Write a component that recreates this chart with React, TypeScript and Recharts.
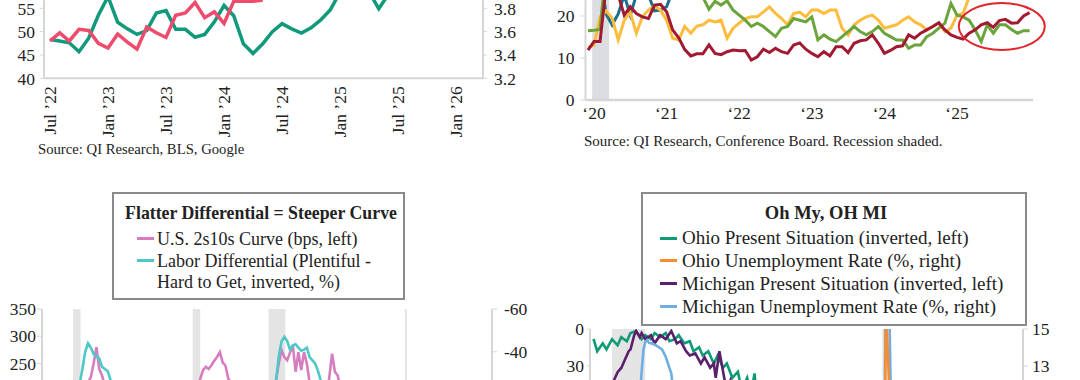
import React from "react";
import { LineChart, Line, XAxis, YAxis, ReferenceArea, ReferenceDot } from "recharts";

const FONT = '"Liberation Serif", "Times New Roman", serif';
const INK = "#222";
const AXIS = "#d6d6d6";
const SHADE = "#e4e4e4";

// ---------- top left: Google searches vs BLS unemployment (monthly from Jul '22)
const p1TickLabels = ["Jul ’22", "Jan ’23", "Jul ’23", "Jan ’24", "Jul ’24", "Jan ’25", "Jul ’25", "Jan ’26"];
const p1Google = [
  48.3, 48.0, 47.6, 45.7, 48.6, 53.5, 57.5, 52.0, 50.6, 49.4, 50.2, 54.0, 54.5, 50.5, 50.5, 48.8, 49.4, 52.1,
  55.6, 53.4, 47.4, 45.3, 47.4, 50.0, 51.7, 50.6, 49.7, 50.8, 52.5, 54.7, 58.5, 61.0, 59.8, 58.5, 54.9, 58.0, 61.0,
];
const p1Unemp = [
  3.52, 3.59, 3.52, 3.62, 3.61, 3.5, 3.46, 3.58, 3.51, 3.45, 3.64, 3.59, 3.55, 3.74, 3.76, 3.85, 3.72, 3.77,
  3.67, 3.86, 3.86, 3.86, 3.87,
];
const p1LeftTicks = [40, 45, 50, 55];
const p1RightTicks = [3.2, 3.4, 3.6, 3.8];
const p1Data = p1Google.map((g, i) => ({ m: i, google: g, unemp: p1Unemp[i] ?? null }));

// ---------- top right: Conference Board series (monthly, first point Dec '19)
const p2TickLabels = ["‘20", "‘21", "‘22", "‘23", "‘24", "‘25"];
const p2Red = [
  11.9, 13.9, 13.9, 27, 28, 25, 20.2, 22.2, 20.6, 19.8, 19.4, 22.6, 22.8, 21, 16.7, 14.8, 12, 10.5, 11, 11,
  13.1, 11.1, 10.8, 11.5, 11.9, 11.7, 11.8, 9.5, 10.3, 12.1, 11.3, 12.3, 11.5, 11.1, 13.1, 13.6, 12.1, 11.1,
  10.3, 11.5, 10.5, 12.7, 12.7, 11.3, 13.5, 14.1, 14.3, 15.5, 13.5, 11.1, 11.8, 12.7, 12.9, 15.5, 14.7, 15.9,
  16.7, 17.5, 18.4, 16.7, 15.5, 14.9, 14.5, 15.9, 16.7, 17.9, 18.4, 17.3, 18.9, 19.2, 18.3, 18.4, 20, 20.8,
];
const p2Yellow = [
  12.6, 13, 19.8, 21.2, 19.5, 14.3, 19, 20.8, 15.9, 19.8, 21.4, 22.4, 21.4, 19, 14.7, 14.3, 17.5, 15.9, 17.6,
  17.9, 19, 18.6, 19, 14.7, 17.1, 18.3, 19.4, 19.8, 19.8, 21, 22.2, 20.6, 19.4, 17.9, 20.6, 20.9, 19.8, 21.4,
  21.4, 20.6, 21.4, 21.4, 17.1, 15.5, 17.9, 19, 19.8, 20.2, 19, 17.1, 17.5, 17.9, 19, 19.8, 18.6, 17.9, 16.7,
  17.5, 18.3, 16.3, 17.1, 20.2, 20.6, 24.5, 27, 28, 29, 28, 29, 30, 29, 30, 31, 31,
];
const p2Green = [
  16.5, 16.6, 16.8, 32, 34, 35, 36, 36, 35, 34, 33, 32, 31, 30, 29, 28, 27, 26, 25, 24.5, 21.6, 23.5, 22.6,
  23.6, 21.4, 20.2, 19, 17.5, 18.3, 17.5, 16.3, 15.1, 17.1, 17.5, 19.4, 19, 18.6, 19.8, 14.3, 15.5, 14.5, 13.9,
  15.1, 16.3, 17.5, 16.3, 15.5, 16.3, 17.5, 15.9, 15.1, 14.3, 14.3, 12.3, 13.1, 13.1, 15.1, 15.9, 17.1, 18.3,
  23, 20.2, 19.8, 19, 16.7, 13.9, 17.9, 15.9, 17.9, 17.9, 16.8, 15.9, 16.5, 16.5,
];
const p2Teal = [30, 32, 30, 20.5, 17.9, 20.5, 25, 20.2, 25, 28, 25, 21.2, 21.4, 22.2, 26, 28, 30];
const p2LeftTicks = [0, 10, 20];
const p2Recession = [-0.3, 2.5];
const p2Circle = { t: 67.4, v: 17.5 };
const p2Data = p2Red.map((r, i) => ({
  t: i - 1,
  red: r,
  yellow: p2Yellow[i],
  green: p2Green[i],
  teal: p2Teal[i] ?? null,
}));

// ---------- bottom left: 2s10s curve vs labor differential (quarterly from 1988 Q1)
const p3Curve = [
  90, 80, 60, 40, 10, -10, 0, 10, 30, 60, 90, 120, 130, 160, 190, 215,
  225, 250, 280, 240, 228, 210, 200, 190, 150, 110, 80, 50, 30, 30, 40, 40,
  50, 60, 50, 40, 40, 30, 30, 20, 10, 10, 20, 30, 30, 20, 10, 0,
  -30, -30, -10, 10, 60, 130, 170, 222, 238, 244, 240, 247, 255, 262, 271, 252,
  246, 222, 215, 190, 100, 50, 20, 10, 0, -10, -10, -10, 0, 10, 40, 90,
  140, 180, 220, 250, 275, 262, 256, 270, 283, 235, 271, 238, 271, 250, 215, 200,
  190, 170, 150, 140, 170, 225, 268, 235, 228, 205, 190, 160, 150, 140, 140, 130,
  110, 100, 90, 120, 120, 100, 90, 70, 60, 40, 25, 20, 15, 5, 5, 20,
  20, 50, 55, 65, 125, 145, 115, 85, 60, 10, -30, -60, -80, -90, -60, -40,
  -35, -40, -10, 15, 35, 50, 55, 55,
];
const p3Labor = [
  5, 8, 10, 12, 12, 10, 5, -5, -10, -15, -20, -22, -25, -32, -40, -44,
  -42, -39, -38, -37, -33, -32, -31, -27, -22, -18, -12, -8, -5, -5, -3, -2,
  0, 2, 5, 8, 12, 15, 18, 20, 22, 24, 25, 26, 27, 28, 30, 30,
  32, 33, 32, 30, 25, 15, 5, -5, -10, -12, -14, -17, -18, -20, -21, -19,
  -16, -14, -12, -10, -7, -4, -2, 0, 3, 5, 7, 7, 7, 6, 4, 2,
  -5, -12, -26, -38, -45, -47, -45, -41, -43, -43.5, -42, -40.5, -41, -42, -37.5, -36,
  -34.5, -31, -26.5, -25, -23, -22, -20, -18, -15, -12, -8, -5, -3, 0, 3, 5,
  5, 6, 7, 9, 12, 14, 16, 18, 20, 22, 25, 28, 30, 32, 33, 32,
  35, -2, 0, 2, 10, 25, 40, 45, 47, 45, 40, 37, 35, 30, 25, 20,
  18, 15, 13, 10, 9, 8, 7, 6,
];
// months since Jan 1990
const p3Recessions = [[6, 14], [134, 142], [215, 233], [361, 363]];
const p3LeftTicks = [250, 300, 350];
const p3RightTicks = [-60, -40];
const p3Data = p3Curve.map((c, q) => ({ m: 3 * q - 23, curve: c, labor: p3Labor[q] }));

// ---------- bottom right: Ohio / Michigan (x = months since Jan 2000)
const p4OhioPresent = [
  [85, 8], [87, 18], [90, 11.6], [92, 16.5], [95, 8.2], [98, 13.2], [100, 6.6], [103, 9.9], [105, 3.3],
  [108, 1.6], [111, 8.2], [113, 5], [116, 8.2], [118, 3.3], [121, 6.6], [124, 3.3], [126, 9.9], [129, 8.2],
  [131, 5], [134, 11.6], [137, 9.9], [139, 18], [142, 14.8], [144, 21.5], [147, 18], [150, 28], [152, 21.5],
  [155, 31.4], [157, 28], [160, 39.6], [163, 34.6], [165, 49.5], [168, 39.6], [170, 52], [172, 36], [173, 55],
  [176, 58], [182, 65], [188, 72], [194, 80], [200, 90], [206, 95], [212, 105], [218, 115], [224, 125],
  [230, 135], [236, 140], [240, 138], [242, 80], [243, 62], [245, 70], [248, 78], [254, 95], [260, 110],
  [266, 130], [272, 140], [278, 135], [284, 125], [290, 120], [296, 115], [302, 110], [309, 100],
];
const p4OhioUnemp = [
  [84, 5.5], [90, 5.6], [96, 5.9], [102, 6.6], [108, 9.0], [114, 10.8], [118, 11.0], [124, 10.6], [132, 9.5],
  [144, 7.5], [156, 7.3], [168, 5.9], [180, 4.9], [192, 5.0], [204, 5.0], [216, 4.6], [228, 4.2], [240, 4.1],
  [242, 5.5], [243, 16.4], [244, 13.7], [245, 10.9], [246, 8.9], [248, 8.5], [252, 6.0], [258, 5.0],
  [264, 4.1], [270, 3.8], [276, 3.6], [282, 3.5], [288, 4.0], [294, 4.4], [300, 4.7], [306, 5.0], [309, 5.0],
];
const p4MichPresent = [
  [84, 55], [85, 46], [86, 60], [88, 68], [90, 74], [92, 66], [94, 55], [96, 41.6], [98, 35], [100, 31.6],
  [102, 24.8], [104, 18], [105, 16.5], [107, 5], [108, 1.6], [110, 6.6], [111, 3.3], [113, 8.2], [116, 5],
  [118, 11.6], [121, 5], [124, 8.2], [127, 1.6], [130, 11.6], [132, 9.9], [135, 18], [137, 21.5], [140, 19.8],
  [143, 28], [145, 23], [148, 31.4], [150, 28], [151, 39.6], [153, 18], [155, 34.6], [157, 51], [159, 41.6],
  [162, 54], [166, 65], [172, 80], [180, 100], [190, 120], [200, 135], [210, 150], [220, 160], [230, 165],
  [240, 160], [242, 70], [243, 55], [245, 75], [250, 95], [260, 125], [270, 150], [280, 140], [290, 130],
  [300, 125], [309, 115],
];
const p4MichUnemp = [
  [84, 7.0], [90, 7.2], [96, 7.6], [102, 8.5], [106, 9.8], [108, 10.9], [110, 11.4], [111, 12.7], [112, 13.9],
  [113, 14.3], [114, 14.4], [115, 14.25], [117, 14.2], [119, 14.1], [122, 13.9], [124, 13.5], [125, 13.2],
  [127, 12.6], [128, 11.75], [130, 11.2], [133, 10.8], [140, 10.0], [150, 9.0], [160, 8.5], [170, 7.5],
  [180, 6.0], [192, 5.0], [204, 4.5], [216, 4.2], [228, 4.1], [240, 3.9], [242, 4.3], [243, 22.7], [244, 21.2],
  [245, 14.9], [246, 9.0], [248, 8.0], [252, 6.5], [258, 5.5], [264, 4.5], [270, 4.3], [276, 3.9], [282, 3.9],
  [288, 4.2], [294, 4.5], [300, 4.8], [306, 5.3], [309, 5.2],
];
const p4Recessions = [[95, 113], [241, 243]];
const p4LeftTicks = [0, 30];
const p4RightTicks = [13, 15];
const pts = (pairs: number[][]) => pairs.map(([m, v]) => ({ m, v }));

const tickStyle = { fontSize: 17.5, fill: INK, fontFamily: FONT };

const RotatedTick = ({ x, y, payload }: any) => (
  <text
    x={x}
    y={y}
    dy="0.36em"
    textAnchor="end"
    transform={`rotate(-90 ${x} ${y})`}
    fontSize={17.5}
    fill={INK}
    fontFamily={FONT}
  >
    {p1TickLabels[Math.round(payload.value / 6)]}
  </text>
);

const Source = ({ left, top, size, children }: any) => (
  <div style={{ position: "absolute", left, top, fontSize: size, lineHeight: "17px", whiteSpace: "nowrap" }}>
    {children}
  </div>
);

const Swatch = ({ left, top, color }: any) => (
  <div style={{ position: "absolute", left, top: top - 1.75, width: 17, height: 3.5, background: color }} />
);

const Txt = ({ left, top, size, bold, center, children }: any) => (
  <div
    style={{
      position: "absolute",
      left,
      top: top - 11,
      height: 22,
      lineHeight: "22px",
      fontSize: size,
      fontWeight: bold ? 700 : 400,
      whiteSpace: "nowrap",
      transform: center ? "translateX(-50%)" : undefined,
    }}
  >
    {children}
  </div>
);

function TopLeft() {
  return (
    <>
      <div style={{ position: "absolute", left: 0, top: -70 }}>
        <LineChart width={560} height={230} data={p1Data} margin={{ top: 8.3, right: 0, bottom: 1.7, left: 0 }}>
          <XAxis
            dataKey="m"
            type="number"
            domain={[-0.62, 44.78]}
            ticks={p1TickLabels.map((_, i) => i * 6)}
            interval={0}
            tick={<RotatedTick />}
            tickLine={false}
            tickSize={0}
            tickMargin={8}
            height={80}
            axisLine={{ stroke: AXIS, strokeWidth: 2 }}
            allowDataOverflow
          />
          <YAxis
            yAxisId="l"
            domain={[40, 70]}
            ticks={p1LeftTicks}
            interval={0}
            width={44}
            tick={tickStyle}
            tickSize={4}
            tickMargin={5}
            tickLine={{ stroke: AXIS }}
            axisLine={{ stroke: AXIS, strokeWidth: 2 }}
            allowDataOverflow
          />
          <YAxis
            yAxisId="r"
            orientation="right"
            domain={[3.2, 4.4]}
            ticks={p1RightTicks}
            interval={0}
            tickFormatter={(v: number) => v.toFixed(1)}
            width={77}
            tick={tickStyle}
            tickSize={4}
            tickMargin={7}
            tickLine={{ stroke: AXIS }}
            axisLine={{ stroke: AXIS, strokeWidth: 2 }}
            allowDataOverflow
          />
          <Line yAxisId="l" dataKey="google" stroke="#10997a" strokeWidth={3.5} dot={false} isAnimationActive={false} />
          <Line yAxisId="r" dataKey="unemp" stroke="#ef4b6d" strokeWidth={3.5} dot={false} isAnimationActive={false} />
        </LineChart>
      </div>
      <Source left={38} top={141} size={14.7}>Source: QI Research, BLS, Google</Source>
    </>
  );
}

function TopRight() {
  return (
    <>
      <div style={{ position: "absolute", left: 540, top: -80 }}>
        <LineChart width={540} height={230} data={p2Data} margin={{ top: 12, right: 47, bottom: 10, left: 0 }}>
          <XAxis
            dataKey="t"
            type="number"
            domain={[-1.405, 72.56]}
            ticks={p2TickLabels.map((_, i) => i * 12)}
            interval={0}
            tickFormatter={(v: number) => p2TickLabels[Math.round(v / 12)]}
            tick={tickStyle}
            tickLine={false}
            tickSize={0}
            tickMargin={7}
            height={40}
            axisLine={{ stroke: AXIS, strokeWidth: 2.5 }}
            allowDataOverflow
          />
          <YAxis
            domain={[0, 40]}
            ticks={p2LeftTicks}
            interval={0}
            width={45.5}
            tick={tickStyle}
            tickSize={5}
            tickMargin={6}
            tickLine={{ stroke: AXIS }}
            axisLine={{ stroke: AXIS, strokeWidth: 2 }}
            allowDataOverflow
          />
          <ReferenceArea x1={p2Recession[0]} x2={p2Recession[1]} fill="#dcdde0" fillOpacity={1} stroke="none" />
          <Line dataKey="teal" stroke="#1d6f90" strokeWidth={3} dot={false} isAnimationActive={false} />
          <Line dataKey="yellow" stroke="#fdbc3c" strokeWidth={3} dot={false} isAnimationActive={false} />
          <Line dataKey="green" stroke="#6ca43c" strokeWidth={3} dot={false} isAnimationActive={false} />
          <Line dataKey="red" stroke="#a11a31" strokeWidth={3} dot={false} isAnimationActive={false} />
          <ReferenceDot
            x={p2Circle.t}
            y={p2Circle.v}
            shape={(p: any) => (
              <ellipse cx={p.cx} cy={p.cy} rx={43} ry={23.5} fill="none" stroke="#e2242b" strokeWidth={2} />
            )}
          />
        </LineChart>
      </div>
      <Source left={584} top={133} size={15}>Source: QI Research, Conference Board. Recession shaded.</Source>
    </>
  );
}

function BottomLeft() {
  return (
    <>
      <div style={{ position: "absolute", left: 0, top: 300 }}>
        <LineChart width={540} height={320} data={p3Data} margin={{ top: 9, right: 0, bottom: 11, left: 0 }}>
          <XAxis dataKey="m" type="number" domain={[-27.2, 454]} hide allowDataOverflow />
          <YAxis
            yAxisId="l"
            domain={[-200, 350]}
            ticks={p3LeftTicks}
            interval={0}
            width={42}
            tick={tickStyle}
            tickSize={5}
            tickMargin={1}
            tickLine={{ stroke: AXIS }}
            axisLine={{ stroke: AXIS, strokeWidth: 2 }}
            allowDataOverflow
          />
          <YAxis
            yAxisId="r"
            orientation="right"
            reversed
            domain={[-60, 80]}
            ticks={p3RightTicks}
            interval={0}
            width={48}
            tick={tickStyle}
            tickSize={5}
            tickMargin={7}
            tickLine={{ stroke: AXIS }}
            axisLine={{ stroke: AXIS, strokeWidth: 2 }}
            allowDataOverflow
          />
          {p3Recessions.map(([a, b]) => (
            <ReferenceArea key={a} yAxisId="l" x1={a} x2={b} fill={SHADE} fillOpacity={1} stroke="none" />
          ))}
          <Line yAxisId="l" dataKey="curve" stroke="#d67dc0" strokeWidth={2.6} dot={false} isAnimationActive={false} />
          <Line yAxisId="r" dataKey="labor" stroke="#4ec8c6" strokeWidth={2.6} dot={false} isAnimationActive={false} />
        </LineChart>
      </div>
      <div
        style={{
          position: "absolute",
          left: 112,
          top: 192,
          width: 293,
          height: 108,
          boxSizing: "border-box",
          border: "2px solid #8a8a8a",
          background: "#fff",
        }}
      />
      <Txt left={261} top={213} size={17.8} bold center>Flatter Differential = Steeper Curve</Txt>
      <Swatch left={137} top={238.5} color="#d67dc0" />
      <Txt left={157} top={238.5} size={18}>U.S. 2s10s Curve (bps, left)</Txt>
      <Swatch left={137} top={260.5} color="#4ec8c6" />
      <Txt left={157} top={260.5} size={18}>Labor Differential (Plentiful -</Txt>
      <Txt left={157} top={281.5} size={18}>Hard to Get, inverted, %)</Txt>
    </>
  );
}

function BottomRight() {
  return (
    <>
      <div style={{ position: "absolute", left: 540, top: 320 }}>
        <LineChart width={540} height={260} margin={{ top: 9, right: 0, bottom: 29, left: 0 }}>
          <XAxis dataKey="m" type="number" domain={[83.1, 317]} hide allowDataOverflow />
          <YAxis
            yAxisId="l"
            reversed
            domain={[0, 180]}
            ticks={p4LeftTicks}
            interval={0}
            width={50}
            tick={tickStyle}
            tickSize={3}
            tickMargin={3}
            tickLine={{ stroke: AXIS }}
            axisLine={{ stroke: AXIS, strokeWidth: 2 }}
            allowDataOverflow
          />
          <YAxis
            yAxisId="r"
            orientation="right"
            domain={[3, 15]}
            ticks={p4RightTicks}
            interval={0}
            width={57}
            tick={tickStyle}
            tickSize={5}
            tickMargin={4}
            tickLine={{ stroke: AXIS }}
            axisLine={{ stroke: AXIS, strokeWidth: 2 }}
            allowDataOverflow
          />
          {p4Recessions.map(([a, b]) => (
            <ReferenceArea key={a} yAxisId="l" x1={a} x2={b} fill={SHADE} fillOpacity={1} stroke="none" />
          ))}
          <Line yAxisId="l" data={pts(p4OhioPresent)} dataKey="v" stroke="#0f9a76" strokeWidth={2.6} dot={false} isAnimationActive={false} />
          <Line yAxisId="l" data={pts(p4MichPresent)} dataKey="v" stroke="#5b1f6b" strokeWidth={2.6} dot={false} isAnimationActive={false} />
          <Line yAxisId="r" data={pts(p4MichUnemp)} dataKey="v" stroke="#6eaee2" strokeWidth={2.6} dot={false} isAnimationActive={false} />
          <Line yAxisId="r" data={pts(p4OhioUnemp)} dataKey="v" stroke="#f58d35" strokeWidth={2.6} dot={false} isAnimationActive={false} />
        </LineChart>
      </div>
      <div
        style={{
          position: "absolute",
          left: 641,
          top: 192,
          width: 386,
          height: 134,
          boxSizing: "border-box",
          border: "2px solid #8a8a8a",
          background: "#fff",
        }}
      />
      <Txt left={826} top={213.3} size={18.5} bold center>Oh My, OH MI</Txt>
      <Swatch left={660} top={238.3} color="#0f9a76" />
      <Txt left={682} top={238.3} size={19}>Ohio Present Situation (inverted, left)</Txt>
      <Swatch left={660} top={260.5} color="#f58d35" />
      <Txt left={682} top={260.5} size={19}>Ohio Unemployment Rate (%, right)</Txt>
      <Swatch left={660} top={283.5} color="#5b1f6b" />
      <Txt left={682} top={283.5} size={19}>Michigan Present Situation (inverted, left)</Txt>
      <Swatch left={660} top={306.5} color="#6eaee2" />
      <Txt left={682} top={306.5} size={19}>Michigan Unemployment Rate (%, right)</Txt>
    </>
  );
}

export default function App() {
  return (
    <div
      style={{
        position: "absolute",
        left: 0,
        top: 0,
        width: 1080,
        height: 380,
        overflow: "hidden",
        background: "#fff",
        fontFamily: FONT,
        color: INK,
      }}
    >
      <TopLeft />
      <TopRight />
      <BottomLeft />
      <BottomRight />
    </div>
  );
}
